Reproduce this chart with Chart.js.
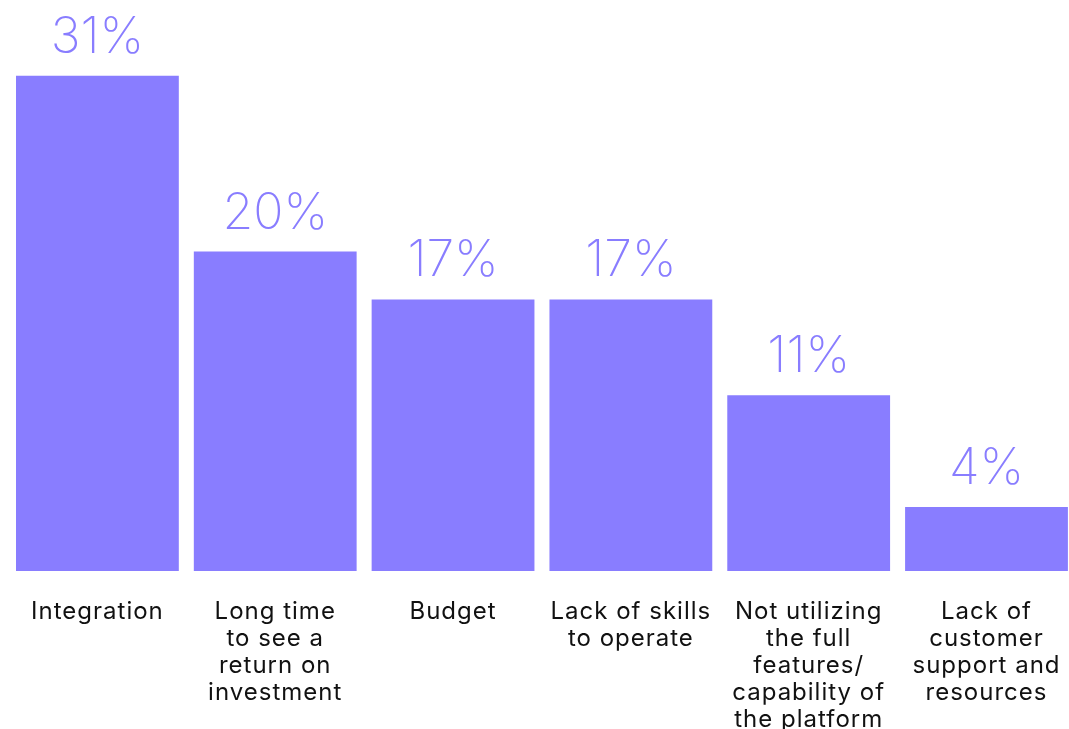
<!DOCTYPE html>
<html>
<head>
<meta charset="utf-8">
<script src="https://cdn.jsdelivr.net/npm/chart.js@4"></script>
<style>
    html, body { margin: 0; padding: 0; background: #fff; overflow: hidden; }
    canvas { display: block; }
</style>
</head>
<body>
<canvas id="barChart" width="1082" height="729"></canvas>
<script>
// Chart data
const categories = [
    ['Integration'],
    ['Long time', 'to see a', 'return on', 'investment'],
    ['Budget'],
    ['Lack of skills', 'to operate'],
    ['Not utilizing', 'the full', 'features/', 'capability of', 'the platform'],
    ['Lack of', 'customer', 'support and', 'resources']
];
const values = [31, 20, 17, 17, 11, 4];
const valueLabels = ['31%', '20%', '17%', '17%', '11%', '4%'];

const barColor = '#897dff';

// Slightly wider category text
const spacingPlugin = {
    id: 'letterSpacing',
    beforeDraw(chart) {
        chart.ctx.letterSpacing = '1px';
    }
};

// Draw the percentage above each bar
const valueLabelPlugin = {
    id: 'valueLabels',
    afterDatasetsDraw(chart) {
        const ctx = chart.ctx;
        const meta = chart.getDatasetMeta(0);
        ctx.save();
        ctx.letterSpacing = '0px';
        ctx.fillStyle = barColor;
        ctx.font = '200 50px Inter, "Open Sans", sans-serif';
        ctx.textAlign = 'center';
        ctx.textBaseline = 'alphabetic';
        meta.data.forEach((bar, i) => {
            ctx.fillText(valueLabels[i], bar.x, bar.y - 23);
        });
        ctx.restore();
    }
};

new Chart(document.getElementById('barChart'), {
    type: 'bar',
    data: {
        labels: categories,
        datasets: [{
            data: values,
            backgroundColor: barColor,
            borderWidth: 0,
            categoryPercentage: 1,
            barPercentage: 0.9156
        }]
    },
    options: {
        responsive: false,
        animation: false,
        layout: { padding: { left: 8.5, right: 0, top: 0, bottom: 0 } },
        plugins: {
            legend: { display: false },
            tooltip: { enabled: false }
        },
        scales: {
            x: {
                grid: { display: false, drawTicks: false },
                border: { display: false },
                afterFit(scale) { scale.height = 158; },
                ticks: {
                    color: '#111',
                    padding: 27,
                    maxRotation: 0,
                    autoSkip: false,
                    font: { family: 'Inter, "Open Sans", sans-serif', size: 24, lineHeight: '27px' }
                }
            },
            y: {
                display: false,
                min: 0,
                max: 35.75
            }
        }
    },
    plugins: [spacingPlugin, valueLabelPlugin]
});
</script>
</body>
</html>
